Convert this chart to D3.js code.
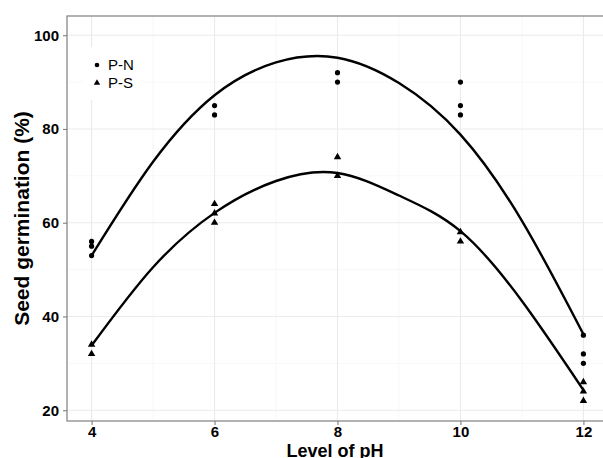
<!DOCTYPE html>
<html>
<head>
<meta charset="utf-8">
<script src="https://cdn.jsdelivr.net/npm/d3@7"></script>
<style>
  body { margin: 0; background: #fff; }
  text { font-family: "Liberation Sans", Arial, sans-serif; }
</style>
</head>
<body>
<div id="chart"></div>
<script>
// observed germination points
const pnX = [4, 4, 4, 6, 6, 8, 8, 10, 10, 10, 12, 12, 12]
const pnY = [56, 55, 53, 85, 83, 92, 90, 90, 85, 83, 36, 32, 30]
const psX = [4, 4, 6, 6, 6, 8, 8, 10, 10, 12, 12, 12]
const psY = [34, 32, 64, 62, 60, 74, 70, 58, 56, 26, 24, 22]

// fitted curves
const fitX = [4, 5, 6, 7, 8, 9, 10, 11, 12]
const pnFit = [53, 73, 87.2, 94.2, 95.2, 89.8, 78.8, 60.4, 36.2]
const psFit = [33.8, 50.5, 62.1, 68.9, 70.6, 65.8, 58.2, 43.3, 24.3]

const xTicks = [4, 6, 8, 10, 12]
const xMinor = [5, 7, 9, 11]
const yTicks = [20, 40, 60, 80, 100]
const yMinor = [30, 50, 70, 90]

const W = 603, H = 458
const mLeft = 67, mRight = 608, mTop = 16, mBottom = 421

let svg = d3.select('#chart')
    .append('svg')
    .attr('width', W)
    .attr('height', H)

let x = d3.scaleLinear().domain([3.6, 12.4]).range([mLeft, mRight])
let y = d3.scaleLinear().domain([17.7, 104.1]).range([mBottom, mTop])

// grid
svg.append('g').selectAll('line').data(xMinor).enter().append('line')
    .attr('x1', d => x(d)).attr('x2', d => x(d))
    .attr('y1', mTop).attr('y2', mBottom)
    .attr('stroke', '#f2f2f2').attr('stroke-width', 0.6)
svg.append('g').selectAll('line').data(yMinor).enter().append('line')
    .attr('x1', mLeft).attr('x2', W)
    .attr('y1', d => y(d)).attr('y2', d => y(d))
    .attr('stroke', '#f2f2f2').attr('stroke-width', 0.6)
svg.append('g').selectAll('line').data(xTicks).enter().append('line')
    .attr('x1', d => x(d)).attr('x2', d => x(d))
    .attr('y1', mTop).attr('y2', mBottom)
    .attr('stroke', '#ebebeb').attr('stroke-width', 1.1)
svg.append('g').selectAll('line').data(yTicks).enter().append('line')
    .attr('x1', mLeft).attr('x2', W)
    .attr('y1', d => y(d)).attr('y2', d => y(d))
    .attr('stroke', '#ebebeb').attr('stroke-width', 1.1)

// panel border
svg.append('rect')
    .attr('x', mLeft).attr('y', mTop)
    .attr('width', mRight - mLeft).attr('height', mBottom - mTop)
    .attr('fill', 'none').attr('stroke', '#7f7f7f').attr('stroke-width', 1.2)

// axes
let xAxis = svg.append('g')
    .attr('transform', `translate(0,${mBottom})`)
    .call(d3.axisBottom(x).tickValues(xTicks).tickSize(4).tickPadding(1))
let yAxis = svg.append('g')
    .attr('transform', `translate(${mLeft},0)`)
    .call(d3.axisLeft(y).tickValues(yTicks).tickSize(4).tickPadding(4))

;[xAxis, yAxis].forEach(a =>
{
    a.select('.domain').remove()
    a.selectAll('line').attr('stroke', '#7f7f7f').attr('stroke-width', 1.1)
    a.selectAll('text')
        .attr('fill', '#000')
        .style('font-size', '15px')
        .style('font-weight', 'bold')
        .style('font-family', '"Liberation Sans", Arial, sans-serif')
})

// axis titles
svg.append('text')
    .attr('x', (mLeft + W) / 2)
    .attr('y', 456.5)
    .attr('text-anchor', 'middle')
    .style('font-size', '18px')
    .style('font-weight', 'bold')
    .text('Level of pH')

svg.append('text')
    .attr('transform', `translate(29,${(mTop + mBottom) / 2}) rotate(-90)`)
    .attr('text-anchor', 'middle')
    .style('font-size', '21px')
    .style('font-weight', 'bold')
    .text('Seed germination (%)')

// fitted lines
let line = d3.line()
    .x(d => x(d[0]))
    .y(d => y(d[1]))
    .curve(d3.curveNatural)

;[pnFit, psFit].forEach(s =>
{
    svg.append('path')
        .datum(fitX.map((v, i) => [v, s[i]]))
        .attr('d', line)
        .attr('fill', 'none')
        .attr('stroke', '#000')
        .attr('stroke-width', 2.4)
})

// points
let tri = d3.symbol().type(d3.symbolTriangle).size(24)

svg.append('g').selectAll('circle')
    .data(pnX.map((v, i) => [v, pnY[i]]))
    .enter()
    .append('circle')
    .attr('cx', d => x(d[0]))
    .attr('cy', d => y(d[1]))
    .attr('r', 2.6)
    .attr('fill', '#000')

svg.append('g').selectAll('path')
    .data(psX.map((v, i) => [v, psY[i]]))
    .enter()
    .append('path')
    .attr('d', tri)
    .attr('transform', d => `translate(${x(d[0])},${y(d[1])})`)
    .attr('fill', '#000')

// legend
let legend = svg.append('g')
legend.append('rect')
    .attr('x', 83).attr('y', 47)
    .attr('width', 58).attr('height', 53)
    .attr('fill', '#fff')

let legendItems = ['P-N', 'P-S']
legendItems.forEach((name, i) =>
{
    let cy = 65 + i * 18
    if (i == 0)
        legend.append('circle').attr('cx', 97).attr('cy', cy).attr('r', 2.3).attr('fill', '#000')
    else
        legend.append('path').attr('d', d3.symbol().type(d3.symbolTriangle).size(18))
            .attr('transform', `translate(97,${cy})`).attr('fill', '#000')

    legend.append('text')
        .attr('x', 108)
        .attr('y', cy + 5)
        .style('font-size', '15px')
        .text(name)
})
</script>
</body>
</html>
